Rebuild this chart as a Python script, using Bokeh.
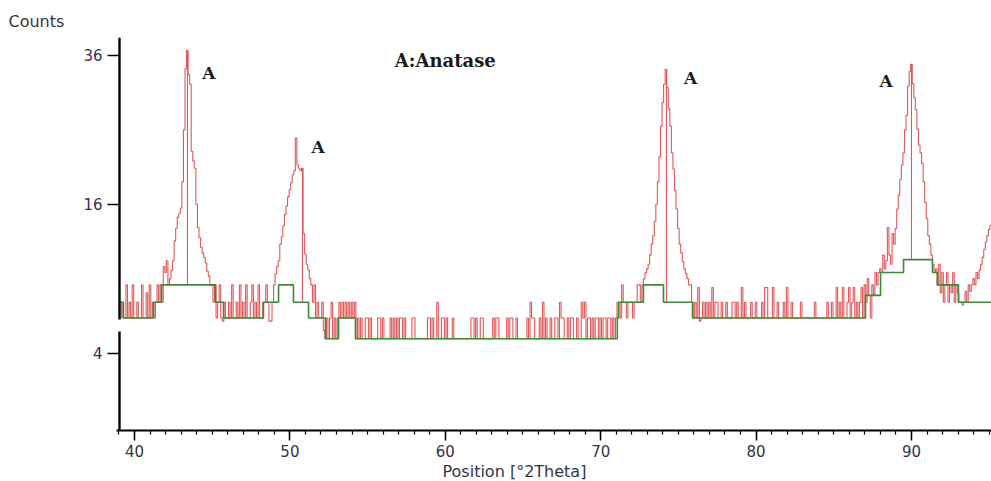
import numpy as np
from bokeh.plotting import figure
from bokeh.models import Range1d, FixedTicker, SingleIntervalTicker, Title
from bokeh.embed import file_html
from bokeh.resources import INLINE
from bokeh.core.properties import value

# ---------------- data ----------------
# measured scan: start angle and step (deg 2Theta), counts per step
scan_start = 39.0
scan_step = 0.1
counts = [
    7.2, 6.1, 7.2, 6.1, 6.1, 8.5, 6.1, 7.2, 6.1, 8.5,      # 39
    6.1, 6.1, 7.2, 6.1, 6.1, 8.5, 6.1, 6.1, 7.9, 6.1,      # 40
    8.5, 6.1, 7.2, 6.1, 7.2, 8.5, 7.2, 8.5, 7.2, 10.0,     # 41
    9.5, 10.5, 8.5, 9.0, 9.7, 10.5, 12.3, 13.5, 14.6, 15.0,  # 42
    15.6, 18.5, 25.0, 33.9, 36.8, 33.0, 31.5, 22.2, 21.0, 20.1,  # 43
    16.0, 13.6, 12.6, 11.7, 11.2, 10.8, 10.3, 9.6, 9.2, 8.5,  # 44
    8.5, 7.2, 8.5, 6.1, 7.2, 8.5, 6.1, 5.9, 7.2, 6.1,      # 45
    6.1, 7.2, 6.1, 8.5, 6.1, 6.1, 7.2, 6.1, 8.5, 6.1,      # 46
    7.2, 6.1, 8.5, 6.1, 6.1, 7.2, 8.5, 6.1, 7.2, 6.1,      # 47
    8.5, 6.1, 6.1, 7.2, 7.2, 8.5, 7.2, 5.9, 5.9, 7.2,      # 48
    8.5, 9.4, 10.0, 10.5, 12.0, 12.7, 13.8, 14.9, 15.8, 16.8,  # 49
    17.6, 18.4, 19.3, 19.8, 23.9, 20.5, 20.1, 19.8, 20.1, 13.0,  # 50
    11.1, 10.2, 9.7, 9.0, 8.5, 7.2, 8.5, 6.1, 7.2, 6.1,    # 51
    6.1, 7.2, 5.3, 4.8, 6.1, 4.8, 6.1, 7.2, 4.8, 6.1,      # 52
    4.8, 6.1, 7.2, 6.1, 7.2, 6.1, 7.2, 6.1, 7.2, 6.1,      # 53
    7.2, 6.1, 7.2, 4.8, 6.1, 4.8, 6.1, 4.8, 4.8, 6.1,      # 54
    6.1, 4.8, 6.1, 4.8, 4.8, 4.8, 4.8, 6.1, 6.1, 4.8,      # 55
    6.1, 4.8, 4.8, 4.8, 4.8, 6.1, 4.8, 6.1, 4.8, 6.1,      # 56
    4.8, 6.1, 6.1, 4.8, 6.1, 4.8, 4.8, 4.8, 4.8, 6.1,      # 57
    6.1, 4.8, 4.8, 4.8, 4.8, 4.8, 4.8, 4.8, 4.8, 6.1,      # 58
    6.1, 4.8, 6.1, 4.8, 4.8, 7.2, 4.8, 4.8, 6.1, 6.1,      # 59
    4.8, 6.1, 4.8, 4.8, 4.8, 6.1, 4.8, 4.8, 4.8, 4.8,      # 60
    4.8, 4.8, 4.8, 4.8, 4.8, 4.8, 4.8, 6.1, 6.1, 4.8,      # 61
    6.1, 4.8, 4.8, 6.1, 6.1, 4.8, 4.8, 4.8, 4.8, 4.8,      # 62
    4.8, 6.1, 4.8, 6.1, 6.1, 4.8, 4.8, 4.8, 4.8, 4.8,      # 63
    6.1, 4.8, 6.1, 6.1, 4.8, 4.8, 6.1, 4.8, 4.8, 4.8,      # 64
    4.8, 4.8, 4.8, 6.1, 4.8, 7.2, 6.1, 6.1, 4.8, 4.8,      # 65
    4.8, 6.1, 4.8, 7.2, 4.8, 6.1, 4.8, 4.8, 6.1, 4.8,      # 66
    4.8, 6.1, 6.1, 4.8, 7.2, 6.1, 6.1, 4.8, 4.8, 6.1,      # 67
    4.8, 6.1, 6.1, 4.8, 4.8, 6.1, 4.8, 4.8, 7.2, 6.1,      # 68
    7.2, 4.8, 6.1, 6.1, 4.8, 6.1, 4.8, 6.1, 6.1, 4.8,      # 69
    6.1, 4.8, 6.1, 6.1, 4.8, 6.1, 6.1, 4.8, 6.1, 4.8,      # 70
    6.1, 7.2, 7.2, 6.1, 8.5, 7.2, 7.2, 6.1, 7.2, 7.2,      # 71
    7.2, 6.1, 7.2, 7.2, 8.5, 8.5, 7.2, 8.5, 9.0, 9.5,      # 72
    9.8, 10.2, 11.0, 12.0, 12.8, 14.2, 16.0, 18.5, 21.5, 25.5,  # 73
    28.8, 31.5, 33.8, 31.0, 28.0, 25.5, 22.0, 20.0, 17.5, 15.5,  # 74
    13.5, 12.0, 11.2, 10.4, 9.8, 9.4, 9.0, 8.5, 8.5, 7.2,  # 75
    6.1, 7.2, 6.1, 8.3, 5.9, 6.1, 7.2, 6.1, 7.2, 6.1,      # 76
    7.2, 6.1, 8.3, 6.1, 7.2, 7.2, 6.1, 6.1, 7.2, 6.1,      # 77
    6.1, 7.2, 6.1, 6.1, 6.1, 7.2, 7.2, 6.1, 7.2, 6.1,      # 78
    6.1, 8.3, 6.1, 7.2, 6.1, 6.1, 6.1, 7.2, 6.1, 6.1,      # 79
    7.2, 6.1, 6.1, 6.1, 7.2, 6.1, 8.3, 8.3, 6.1, 6.1,      # 80
    6.1, 8.3, 6.1, 6.1, 7.2, 6.1, 6.1, 6.1, 7.2, 6.1,      # 81
    8.3, 6.1, 6.1, 7.2, 6.1, 6.1, 6.1, 6.1, 6.1, 7.2,      # 82
    6.1, 6.1, 6.1, 6.1, 6.1, 6.1, 6.1, 6.1, 7.2, 6.1,      # 83
    6.1, 6.1, 6.1, 6.1, 6.1, 6.1, 7.2, 6.1, 6.1, 7.2,      # 84
    6.1, 6.1, 8.3, 6.1, 7.2, 6.1, 8.3, 6.1, 6.1, 7.2,      # 85
    8.3, 6.1, 7.2, 8.3, 6.1, 7.2, 6.1, 7.2, 8.3, 6.1,      # 86
    8.5, 7.2, 9.0, 7.7, 6.1, 8.5, 7.7, 9.5, 8.5, 9.5,      # 87
    9.8, 9.5, 11.0, 9.8, 10.5, 13.6, 11.0, 10.2, 13.0, 12.0,  # 88
    13.5, 15.5, 17.0, 18.8, 20.5, 22.0, 25.0, 27.0, 31.2, 33.5,  # 89
    34.6, 31.6, 29.5, 27.8, 25.1, 23.0, 22.0, 20.7, 18.5, 16.2,  # 90
    14.5, 12.8, 12.0, 11.0, 10.2, 9.5, 9.8, 8.5, 10.2, 7.9,  # 91
    9.5, 7.2, 8.5, 9.5, 7.2, 8.5, 7.9, 9.5, 7.2, 8.5,      # 92
    7.9, 7.2, 7.2, 7.0, 7.2, 8.0, 7.2, 8.5, 8.0, 8.5,      # 93
    9.0, 8.5, 9.5, 9.0, 9.7, 10.2, 10.8, 11.5, 12.2, 12.8,  # 94
    13.4, 13.8, 14.2,                                      # 95
]

# fitted background (green step line): break positions and levels
bg_pos = [39.0, 39.29, 41.22, 41.74, 45.21, 45.73, 48.30, 49.27, 50.23, 51.20,
          52.29, 53.13, 54.22, 71.07, 71.15, 72.75, 74.04, 75.91, 87.04, 88.01,
          89.49, 91.35, 91.67, 93.02, 95.3]
bg_counts = [7.2, 6.1, 7.2, 8.5, 7.2, 6.1, 7.2, 8.5, 7.2, 6.1,
             4.8, 6.1, 4.8, 6.1, 7.2, 8.5, 7.2, 6.1, 7.7, 9.5,
             10.6, 9.5, 8.5, 7.2, 7.2]

# identified peaks (sticks)
peak_pos = [43.41, 50.81, 74.23, 90.0]
peak_top = [36.8, 20.1, 33.8, 34.6]
peak_base = [8.5, 7.2, 7.2, 10.6]

# phase labels
label_text = ["A", "A", "A", "A"]
label_pos = [44.79, 51.81, 75.78, 88.36]
label_counts = [33.2, 22.8, 32.4, 32.0]
legend_text = "A:Anatase"
legend_pos = 60.0
legend_counts = 35.2

y_tick_counts = [4, 16, 36]
x_tick_step = 10

# plot window (deg 2Theta, sqrt(counts)) and the break in the count axis
x_lo, x_hi = 38.842, 95.15
ys_lo, ys_hi = 0.958, 6.242
axis_x = 39.035
axis_break = (2.290, 2.452)

# --------------- plot -----------------
x = scan_start + scan_step * np.arange(len(counts))
y = np.sqrt(np.array(counts))

p = figure(width=991, height=481, output_backend="svg", toolbar_location=None,
           x_range=Range1d(x_lo, x_hi), y_range=Range1d(ys_lo, ys_hi),
           min_border_left=116, min_border_right=0, min_border_top=37,
           min_border_bottom=51)
p.outline_line_color = None
p.background_fill_color = "white"
p.border_fill_color = "white"
p.xgrid.visible = False
p.ygrid.visible = False

p.step(x, y, mode="center", line_color="#e05858", line_width=1.1)
p.segment(x0=peak_pos, y0=np.sqrt(peak_base), x1=peak_pos, y1=np.sqrt(peak_top),
          line_color="#e05858", line_width=1.1)
p.step(bg_pos, np.sqrt(np.array(bg_counts)), mode="after", line_color="#3a8a3a",
       line_width=1.6)

# vertical axis line, drawn in two pieces (broken axis)
p.segment(x0=[axis_x, axis_x], y0=[ys_lo, axis_break[1]],
          x1=[axis_x, axis_x], y1=[axis_break[0], ys_hi],
          line_color="black", line_width=2.4)

p.text(x=label_pos, y=np.sqrt(np.array(label_counts)), text=label_text,
       text_font=value("DejaVu Serif"), text_font_style="bold",
       text_font_size="17px", text_align="center", text_baseline="middle",
       text_color="#1a1a1a")
p.text(x=[legend_pos], y=[np.sqrt(legend_counts)], text=[legend_text],
       text_font=value("DejaVu Serif"), text_font_style="bold",
       text_font_size="18px", text_align="center", text_baseline="middle",
       text_color="#1a1a1a")

# axes
yax = p.yaxis[0]
yax.ticker = FixedTicker(ticks=[float(np.sqrt(c)) for c in y_tick_counts])
yax.major_label_overrides = {float(np.sqrt(c)): str(c) for c in y_tick_counts}
yax.minor_tick_line_color = None
yax.major_tick_in = 3
yax.major_tick_out = 9
yax.major_tick_line_width = 1.5
yax.axis_line_color = None
yax.major_tick_line_color = "black"
yax.major_label_text_font = "DejaVu Sans"
yax.major_label_text_font_size = "15px"
yax.major_label_text_color = "#33334a"
yax.major_label_standoff = 5

xax = p.xaxis[0]
xax.ticker = SingleIntervalTicker(interval=x_tick_step, num_minor_ticks=10)
xax.major_tick_in = 0
xax.major_tick_out = 10
xax.minor_tick_in = 0
xax.minor_tick_out = 4
xax.major_tick_line_width = 1.5
xax.minor_tick_line_width = 1.2
xax.axis_line_width = 2.2
xax.axis_line_color = "black"
xax.major_tick_line_color = "black"
xax.minor_tick_line_color = "black"
xax.major_label_text_font = "DejaVu Sans"
xax.major_label_text_font_size = "15px"
xax.major_label_text_color = "#33334a"
xax.major_label_standoff = 4

# axis titles
p.title.text = "Counts"
p.title.align = "left"
p.title.offset = -108
p.title.standoff = 14
p.title.text_font = "DejaVu Sans"
p.title.text_font_size = "16px"
p.title.text_font_style = "normal"
p.title.text_color = "#33334a"

p.add_layout(Title(text="Position [°2Theta]", align="left", offset=326,
                   text_font="DejaVu Sans", text_font_size="16px",
                   text_font_style="normal", text_color="#33334a",
                   standoff=0), "below")

open("out.html", "w").write(file_html(p, INLINE))
